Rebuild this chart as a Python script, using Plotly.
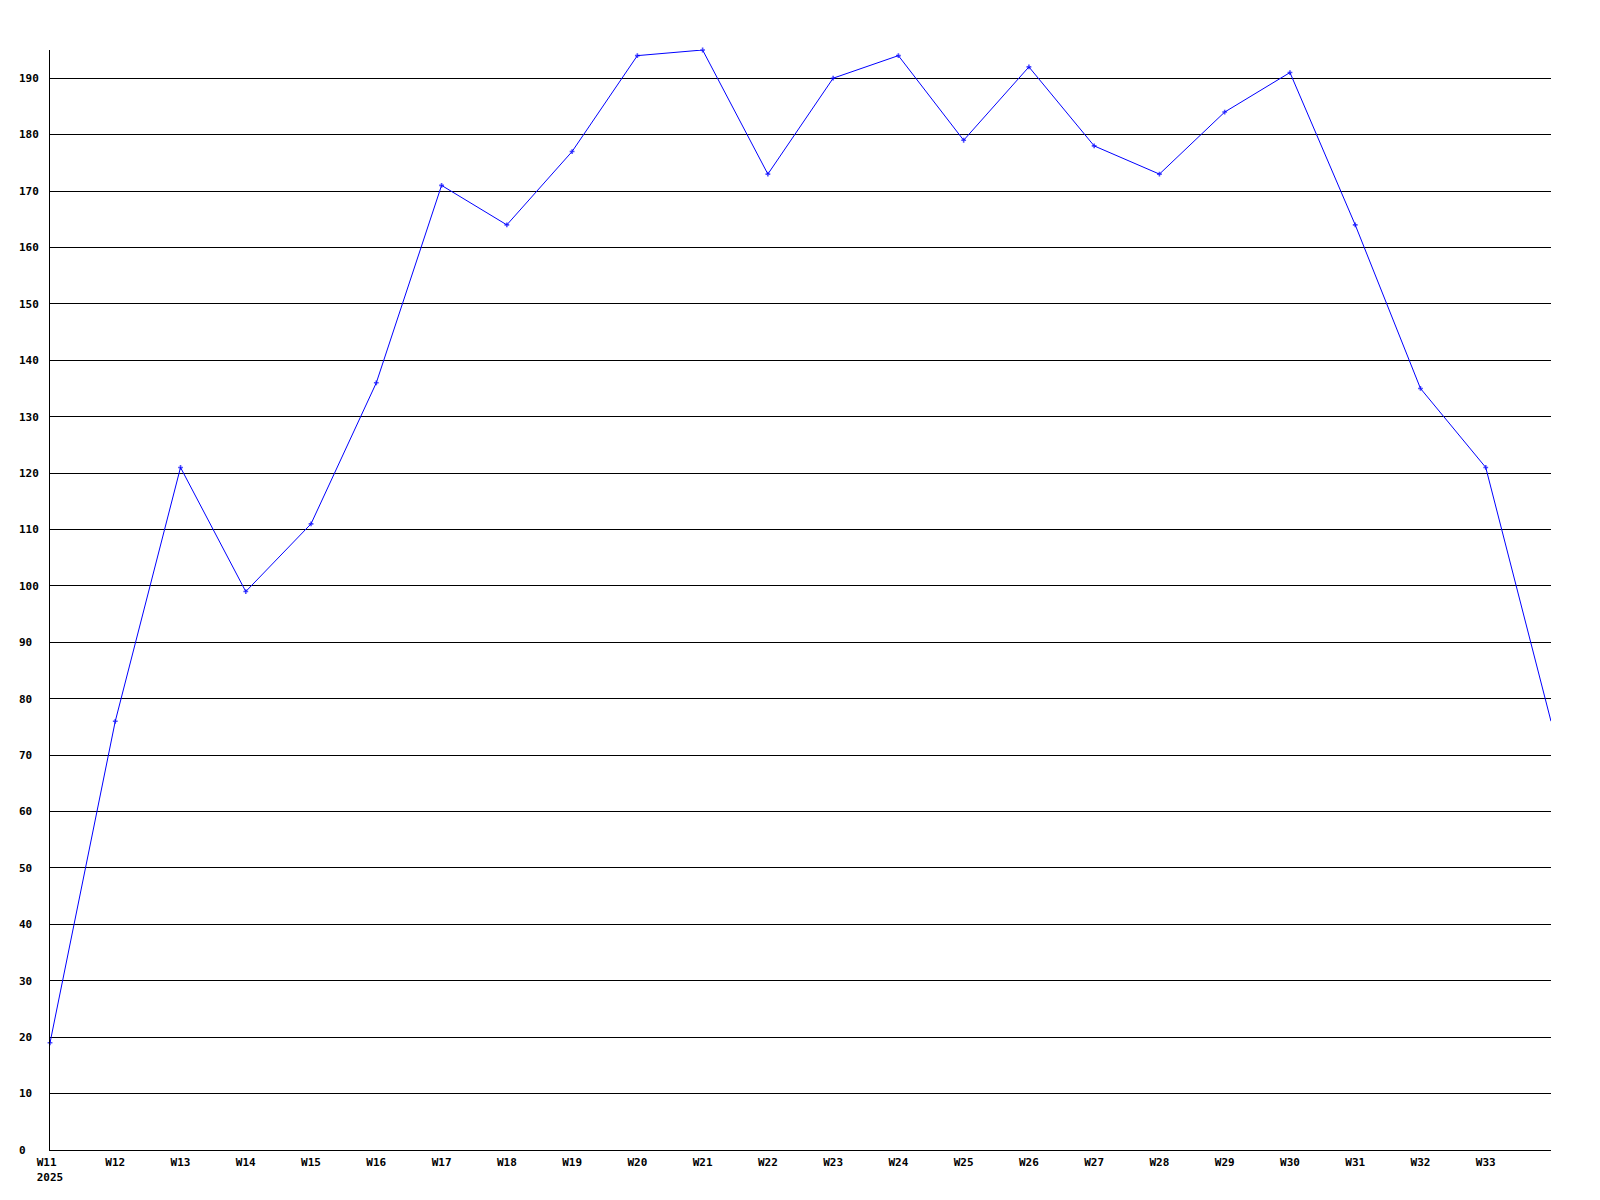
import plotly.graph_objects as go

weeks = ["W11", "W12", "W13", "W14", "W15", "W16", "W17", "W18", "W19", "W20", "W21", "W22",
         "W23", "W24", "W25", "W26", "W27", "W28", "W29", "W30", "W31", "W32", "W33", "W34"]
values = [19, 76, 121, 99, 111, 136, 171, 164, 177, 194, 195, 173,
          190, 194, 179, 192, 178, 173, 184, 191, 164, 135, 121, 76]
x_tick_labels = ["W11\u00a0<br>2025", "W12", "W13", "W14", "W15", "W16", "W17", "W18", "W19", "W20",
                 "W21", "W22", "W23", "W24", "W25", "W26", "W27", "W28", "W29", "W30", "W31",
                 "W32", "W33"]
y_tick_vals = list(range(0, 200, 10))
y_tick_labels = [str(v).ljust(3, "\u00a0") for v in y_tick_vals]

xpos = list(range(len(weeks)))
# the last point sits on the right edge of the plot and its marker is cut off there
marker_sizes = [4] * (len(weeks) - 1) + [0]

font = dict(family="DejaVu Sans Mono, Liberation Mono, monospace", size=11, color="black", weight="bold")

fig = go.Figure()
fig.add_trace(go.Scatter(
    x=xpos, y=values, mode="lines+markers",
    line=dict(color="#0000ff", width=1),
    marker=dict(symbol="cross", size=marker_sizes, color="#0000ff", line=dict(width=0)),
    hoverinfo="skip", showlegend=False, cliponaxis=False,
))

fig.update_layout(
    width=1600, height=1200,
    margin=dict(l=50, r=49, t=50, b=50),
    plot_bgcolor="white", paper_bgcolor="white",
    font=font,
    xaxis=dict(
        range=[0, len(weeks) - 1],
        tickvals=xpos[:len(x_tick_labels)], ticktext=x_tick_labels,
        showgrid=False, zeroline=False,
        showline=True, linecolor="black", linewidth=1,
        ticks="", ticklabelstandoff=2, tickfont=font,
        fixedrange=True,
    ),
    yaxis=dict(
        range=[0, 195],
        tickvals=y_tick_vals, ticktext=y_tick_labels,
        showgrid=True, gridcolor="black", gridwidth=1,
        zeroline=False,
        showline=True, linecolor="black", linewidth=1,
        ticks="", ticklabelstandoff=8, tickfont=font,
        fixedrange=True,
    ),
)

fig.write_html(
    "out.html",
    config={"displayModeBar": False},
    post_script="document.body.style.margin='0px';document.body.style.overflow='hidden';",
)
